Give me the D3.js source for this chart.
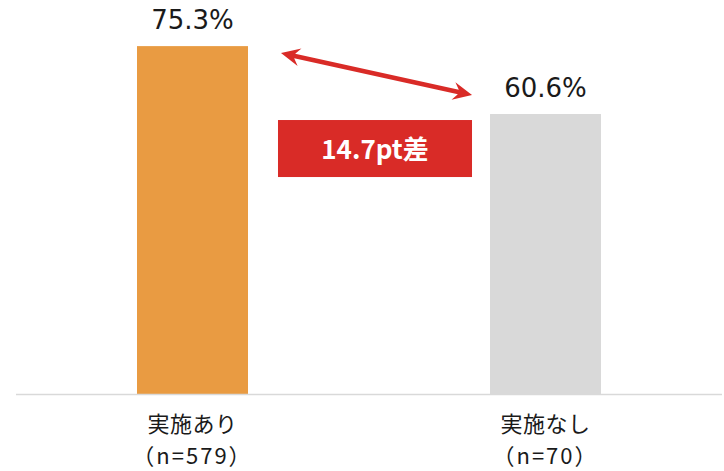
<!DOCTYPE html>
<html>
<head>
<meta charset="utf-8">
<script src="https://cdn.jsdelivr.net/npm/d3@7"></script>
<style>
  html, body { margin: 0; padding: 0; background: #fff; }
  svg { display: block; }
  .val { font-family: "DejaVu Sans", Verdana, sans-serif; font-size: 26px; fill: #1a1a1a; }
  .cat { font-family: "Noto Sans CJK JP", sans-serif; font-size: 22px; fill: #1a1a1a; letter-spacing: 0.5px; }
  .num { letter-spacing: 2px; }
  .diff { font-family: "Noto Sans CJK JP", sans-serif; font-size: 26px; font-weight: 700; fill: #fff; }
</style>
</head>
<body>
<svg id="chart" width="724" height="471"></svg>
<script>
(function () {
  const CATEGORIES = ['実施あり', '実施なし'];
  const SAMPLE_LABELS = ['（n=579）', '（n=70）'];
  const VALUES = [75.3, 60.6];
  const COLORS = ['#E99B42', '#D9D9D9'];
  const DIFF_LABEL = '14.7pt差';

  const baseY = 394;
  const red = '#D92B27';

  const svg = d3.select('#chart');

  const x = d3.scaleBand()
    .domain(CATEGORIES)
    .range([16, 722])
    .paddingInner(0.6856)
    .paddingOuter(0.3428);

  const y = d3.scaleLinear()
    .domain([0, 80])
    .range([baseY, baseY - 80 * 4.62]);

  // bars
  svg.selectAll('rect.bar')
    .data(CATEGORIES)
    .join('rect')
    .attr('class', 'bar')
    .attr('x', d => x(d))
    .attr('width', x.bandwidth())
    .attr('y', (d, i) => y(VALUES[i]))
    .attr('height', (d, i) => y(0) - y(VALUES[i]))
    .attr('fill', (d, i) => COLORS[i]);

  // baseline
  svg.append('line')
    .attr('x1', 16).attr('x2', 722)
    .attr('y1', baseY + 0.5).attr('y2', baseY + 0.5)
    .attr('stroke', '#D9D9D9')
    .attr('stroke-width', 1.5);

  // value labels
  svg.selectAll('text.val')
    .data(CATEGORIES)
    .join('text')
    .attr('class', 'val')
    .attr('x', d => x(d) + x.bandwidth() / 2)
    .attr('y', (d, i) => y(VALUES[i]) - 17)
    .attr('text-anchor', 'middle')
    .text((d, i) => VALUES[i].toFixed(1) + '%');

  // category labels
  const cx = d => x(d) + x.bandwidth() / 2;

  svg.selectAll('text.cat1')
    .data(CATEGORIES)
    .join('text')
    .attr('class', 'cat cat1')
    .attr('x', cx)
    .attr('y', 432)
    .attr('text-anchor', 'middle')
    .text(d => d);

  svg.selectAll('text.cat2')
    .data(CATEGORIES)
    .join('text')
    .attr('class', 'cat cat2 num')
    .attr('x', cx)
    .attr('y', 464)
    .attr('text-anchor', 'middle')
    .text((d, i) => SAMPLE_LABELS[i]);

  // difference arrow
  const x0 = x(CATEGORIES[0]) + x.bandwidth() + 33;
  const y0 = y(VALUES[0]) + 7;
  const x1 = x(CATEGORIES[1]) - 18;
  const y1 = y(VALUES[1]) - 19;

  const ang = Math.atan2(y1 - y0, x1 - x0);
  const headLen = 19, headW = 9, shaft = 2.3;
  const ux = Math.cos(ang), uy = Math.sin(ang);
  const px = -uy, py = ux;
  const pt = (bx, by, a, b) => [bx + ux * a + px * b, by + uy * a + py * b];
  const poly = [
    pt(x0, y0, 0, 0),
    pt(x0, y0, headLen, headW),
    pt(x0, y0, headLen - 5, shaft),
    pt(x1, y1, -(headLen - 5), shaft),
    pt(x1, y1, -headLen, headW),
    pt(x1, y1, 0, 0),
    pt(x1, y1, -headLen, -headW),
    pt(x1, y1, -(headLen - 5), -shaft),
    pt(x0, y0, headLen - 5, -shaft),
    pt(x0, y0, headLen, -headW)
  ];
  svg.append('path')
    .attr('d', d3.line()(poly) + 'Z')
    .attr('fill', red);

  // difference box
  const bx0 = x(CATEGORIES[0]) + x.bandwidth() + 30;
  const bx1 = x(CATEGORIES[1]) - 18;
  const by0 = y(VALUES[1]) + 6;
  const bh = 57;
  svg.append('rect')
    .attr('x', bx0).attr('y', by0)
    .attr('width', bx1 - bx0).attr('height', bh)
    .attr('fill', red);

  svg.append('text')
    .attr('class', 'diff')
    .attr('x', (bx0 + bx1) / 2)
    .attr('y', by0 + 39)
    .attr('text-anchor', 'middle')
    .text(DIFF_LABEL);
})();
</script>
</body>
</html>
